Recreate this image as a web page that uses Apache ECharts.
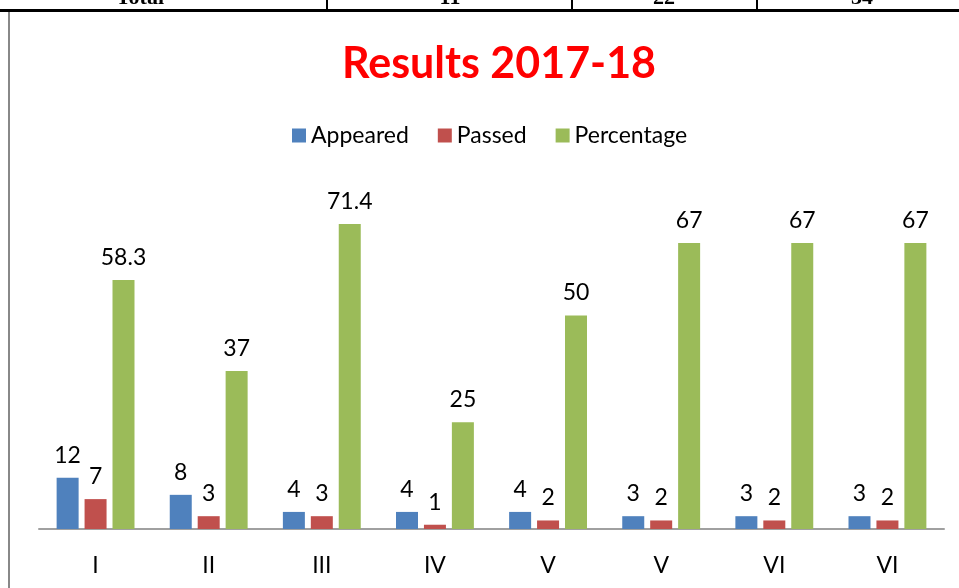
<!DOCTYPE html>
<html>
<head>
<meta charset="utf-8">
<script src="https://cdn.jsdelivr.net/npm/echarts@6/dist/echarts.min.js"></script>
<style>
  html, body { margin: 0; padding: 0; background: #fff; }
  #main { width: 959px; height: 588px; }
</style>
</head>
<body>
<div id="main"></div>
<script>
// 数据
const categories = ["I", "II", "III", "IV", "V", "V", "VI", "VI"];
const appeared = [12, 8, 4, 4, 4, 3, 3, 3];
const passed = [7, 3, 3, 1, 2, 2, 2, 2];
const percentage = [58.3, 37, 71.4, 25, 50, 67, 67, 67];

const myChart = echarts.init(document.getElementById("main"));
const font = "Lato, 'Open Sans', sans-serif";

const label = {
  show: true,
  position: "top",
  distance: 11,
  color: "#000",
  fontSize: 23,
  fontFamily: font
};

const option = {
  animation: false,
  title: {
    text: "Results 2017-18",
    left: 337,
    top: 38,
    textStyle: { color: "#ff0000", fontSize: 43, fontWeight: "bold", fontFamily: font }
  },
  legend: {
    top: 119,
    left: 287,
    itemWidth: 14,
    itemHeight: 14,
    itemGap: 29,
    icon: "rect",
    textStyle: { fontSize: 23, color: "#000", fontFamily: font },
    data: ["Appeared", "Passed", "Percentage"]
  },
  grid: { left: 39, right: 15, top: 187.4, bottom: 59 },
  xAxis: {
    type: "category",
    data: categories,
    axisLine: { lineStyle: { color: "#a0a0a0", width: 2 } },
    axisTick: { show: false },
    axisLabel: { color: "#000", fontSize: 23, fontFamily: font, margin: 25 }
  },
  yAxis: {
    type: "value",
    min: 0,
    max: 80,
    show: false,
    splitLine: { show: false }
  },
  series: [
    { name: "Appeared", type: "bar", data: appeared, barWidth: 22, barGap: "27%", itemStyle: { color: "#4F81BD" }, label },
    { name: "Passed", type: "bar", data: passed, barWidth: 22, barGap: "27%", itemStyle: { color: "#C0504D" }, label },
    { name: "Percentage", type: "bar", data: percentage, barWidth: 22, barGap: "27%", itemStyle: { color: "#9BBB59" }, label }
  ],
  // 扫描页面的表格边框
  graphic: [
    { type: "rect", shape: { x: 0, y: 9, width: 959, height: 3 }, style: { fill: "#000" } },
    { type: "rect", shape: { x: 326, y: 0, width: 2, height: 10 }, style: { fill: "#000" } },
    { type: "rect", shape: { x: 571, y: 0, width: 2, height: 10 }, style: { fill: "#000" } },
    { type: "rect", shape: { x: 756, y: 0, width: 2, height: 10 }, style: { fill: "#000" } },
    { type: "rect", shape: { x: 8, y: 12, width: 2, height: 576 }, style: { fill: "#888" } },
    { type: "text", x: 140, y: 9, style: { text: "Total", fill: "#000", font: "bold 22px 'Liberation Serif'", align: "center", verticalAlign: "bottom" } },
    { type: "text", x: 450, y: 9, style: { text: "11", fill: "#000", font: "bold 22px 'Liberation Serif'", align: "center", verticalAlign: "bottom" } },
    { type: "text", x: 664, y: 9, style: { text: "22", fill: "#000", font: "bold 22px 'Liberation Serif'", align: "center", verticalAlign: "bottom" } },
    { type: "text", x: 862, y: 9, style: { text: "34", fill: "#000", font: "bold 22px 'Liberation Serif'", align: "center", verticalAlign: "bottom" } }
  ]
};

myChart.setOption(option);
</script>
</body>
</html>
